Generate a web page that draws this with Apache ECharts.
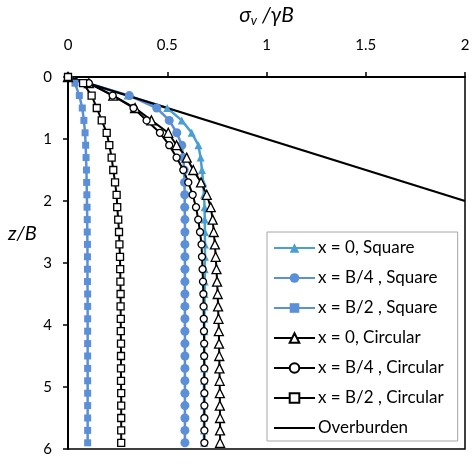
<!DOCTYPE html>
<html>
<head>
<meta charset="utf-8">
<script src="https://cdn.jsdelivr.net/npm/echarts@6/dist/echarts.min.js"></script>
<style>html,body{margin:0;padding:0;background:#fff;}#c{width:475px;height:464px;}</style>
</head>
<body>
<div id="c"></div>
<script>
// depth z/B
var zVals = [0, 0.1, 0.3, 0.5, 0.7, 0.9, 1.1, 1.3, 1.5, 1.7, 1.9, 2.1, 2.3, 2.5, 2.7, 2.9, 3.1, 3.3, 3.5, 3.7, 3.9, 4.1, 4.3, 4.5, 4.7, 4.9, 5.1, 5.3, 5.5, 5.7, 5.9];
// sigma_v / gamma B for each series
var sq0  = [0, 0.10, 0.30, 0.50, 0.573, 0.623, 0.657, 0.668, 0.675, 0.681, 0.685, 0.688, 0.689, 0.690, 0.690, 0.690, 0.689, 0.689, 0.688, 0.688, 0.687, 0.687, 0.686, 0.686, 0.686, 0.685, 0.685, 0.685, 0.685, 0.685, 0.685];
var sqB4 = [0, 0.10, 0.309, 0.447, 0.51, 0.548, 0.573, 0.581, 0.585, 0.587, 0.588, 0.588, 0.589, 0.589, 0.589, 0.589, 0.589, 0.589, 0.589, 0.589, 0.589, 0.589, 0.589, 0.589, 0.589, 0.589, 0.589, 0.589, 0.589, 0.589, 0.589];
var sqB2 = [0, 0.035, 0.057, 0.072, 0.080, 0.086, 0.089, 0.091, 0.093, 0.094, 0.095, 0.096, 0.097, 0.097, 0.098, 0.098, 0.098, 0.098, 0.099, 0.099, 0.099, 0.099, 0.099, 0.099, 0.099, 0.099, 0.099, 0.099, 0.099, 0.099, 0.099];
var ci0  = [0, 0.105, 0.228, 0.338, 0.42, 0.505, 0.547, 0.598, 0.631, 0.67, 0.699, 0.719, 0.729, 0.734, 0.74, 0.744, 0.748, 0.751, 0.754, 0.756, 0.758, 0.76, 0.761, 0.762, 0.763, 0.764, 0.765, 0.765, 0.766, 0.766, 0.766];
var ciB4 = [0, 0.105, 0.225, 0.33, 0.396, 0.463, 0.51, 0.547, 0.581, 0.606, 0.628, 0.645, 0.656, 0.665, 0.673, 0.675, 0.678, 0.68, 0.682, 0.683, 0.684, 0.685, 0.686, 0.686, 0.687, 0.687, 0.687, 0.687, 0.687, 0.687, 0.687];
var ciB2 = [0, 0.076, 0.119, 0.145, 0.17, 0.195, 0.208, 0.22, 0.228, 0.237, 0.245, 0.248, 0.253, 0.257, 0.259, 0.262, 0.263, 0.264, 0.265, 0.265, 0.266, 0.266, 0.267, 0.267, 0.267, 0.267, 0.268, 0.268, 0.268, 0.268, 0.268];
var overX = [0, 2];
var overZ = [0, 2];
var xTicks = [0, 0.5, 1, 1.5, 2];
var yTicks = [0, 1, 2, 3, 4, 5, 6];
var names = ['x = 0, Square', 'x = B/4 , Square', 'x = B/2 , Square', 'x = 0, Circular', 'x = B/4 , Circular', 'x = B/2 , Circular', 'Overburden'];

function pairs(xs, zs) { return xs.map(function (v, i) { return [v, zs[i]]; }); }

var FONT = 'Lato';
var blueT = '#4A9FD2', blue = '#5B8FD8';

function mk(name, xs, color, sym, size, fill, lw) {
  return {
    name: name, type: 'line', data: pairs(xs, zVals),
    symbol: sym, symbolSize: size, showAllSymbol: true,
    lineStyle: { color: color, width: lw },
    itemStyle: { color: fill, borderColor: color, borderWidth: fill === '#fff' ? 1.3 : 0 },
    emphasis: { disabled: true }, animation: false
  };
}

var legendData = names.map(function (n, i) {
  if (i === names.length - 1) {
    return { name: n, itemStyle: { color: 'transparent', borderColor: 'transparent', borderWidth: 0, opacity: 0 } };
  }
  return { name: n };
});

var chart = echarts.init(document.getElementById('c'), null, { renderer: 'canvas' });
chart.setOption({
  animation: false,
  textStyle: { fontFamily: FONT },
  grid: { left: 68, top: 66, width: 397, height: 383, show: true, borderColor: '#000', borderWidth: 1.5, backgroundColor: 'transparent' },
  xAxis: {
    type: 'value', position: 'top', min: xTicks[0], max: xTicks[xTicks.length - 1], interval: 0.5,
    name: '{i|σ}{s|v}{i| /γB}', nameLocation: 'middle', nameGap: 50,
    nameTextStyle: { rich: { i: { fontFamily: FONT, fontSize: 21, fontStyle: 'italic', color: '#000' }, s: { fontFamily: FONT, fontSize: 13, fontStyle: 'italic', color: '#000', verticalAlign: 'bottom', padding: [10, 0, 0, 0] } } },
    axisLine: { lineStyle: { color: '#000', width: 2 } },
    axisTick: { show: true, inside: false, length: 5, lineStyle: { color: '#000', width: 1.5 } },
    axisLabel: { margin: 24, fontSize: 15, color: '#000', fontFamily: FONT },
    splitLine: { show: false }
  },
  yAxis: {
    type: 'value', inverse: true, min: yTicks[0], max: yTicks[yTicks.length - 1], interval: 1,
    axisLine: { lineStyle: { color: '#000', width: 2 } },
    axisTick: { show: true, inside: false, length: 5, lineStyle: { color: '#000', width: 1.5 } },
    axisLabel: { margin: 16, fontSize: 15, color: '#000', fontFamily: FONT },
    splitLine: { show: false }
  },
  graphic: [{
    type: 'text', left: 8, top: 224,
    style: { text: 'z/B', font: 'italic 20px Lato', fill: '#000' }
  }],
  legend: {
    orient: 'vertical', left: 267, top: 232, width: 190,
    padding: [7, 14, 4, 6], itemGap: 12,
    itemWidth: 41, itemHeight: 12,
    borderColor: '#A6A6A6', borderWidth: 1, backgroundColor: '#fff',
    textStyle: { fontFamily: FONT, fontSize: 17, color: '#000', lineHeight: 18, padding: [0, 0, 0, -2] },
    data: legendData
  },
  series: [
    mk(names[0], sq0, blueT, 'triangle', 8, blueT, 2.5),
    mk(names[1], sqB4, blue, 'circle', 9, blue, 2.5),
    mk(names[2], sqB2, blue, 'rect', 7, blue, 2.5),
    mk(names[3], ci0, '#000', 'triangle', 9, '#fff', 2),
    mk(names[4], ciB4, '#000', 'circle', 7, '#fff', 2),
    mk(names[5], ciB2, '#000', 'rect', 7, '#fff', 2),
    { name: names[6], type: 'line', data: pairs(overX, overZ), symbol: 'none', itemStyle: { color: '#000' }, lineStyle: { color: '#000', width: 2.2 }, emphasis: { disabled: true } }
  ]
});
</script>
</body>
</html>
